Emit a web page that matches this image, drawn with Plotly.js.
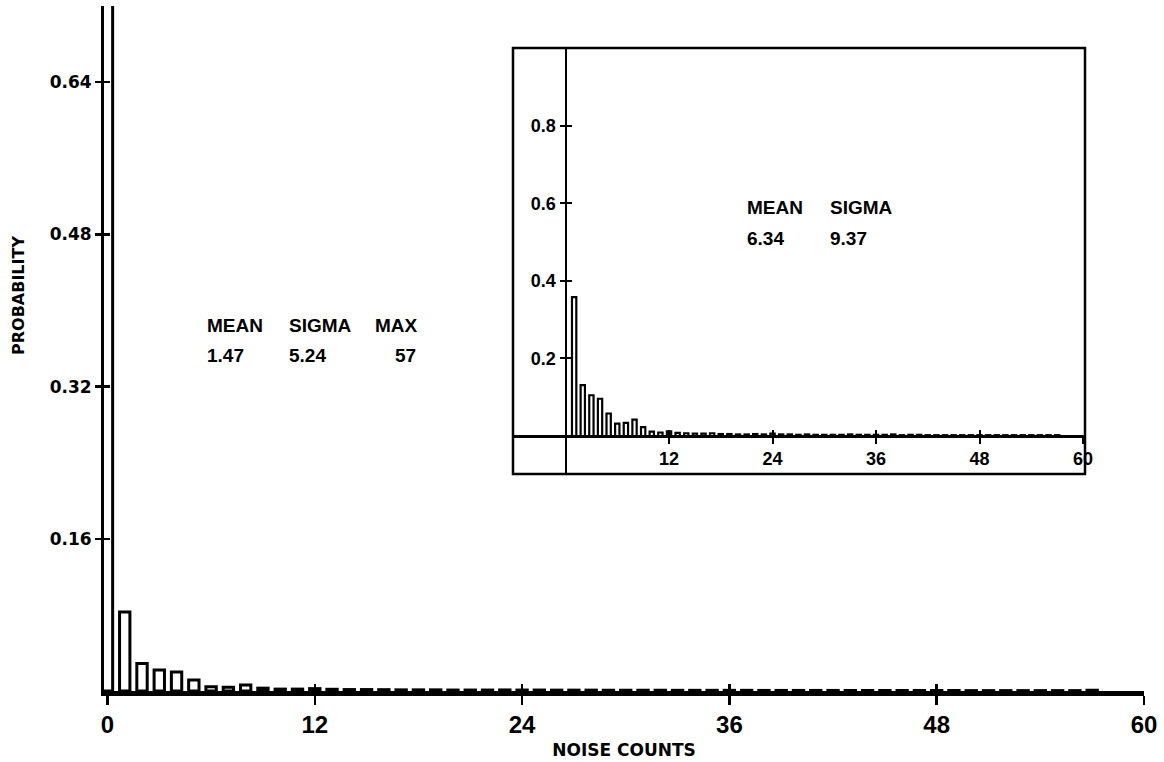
<!DOCTYPE html>
<html>
<head>
<meta charset="utf-8">
<script src="https://cdn.plot.ly/plotly-3.0.1.min.js"></script>
<style>html,body{margin:0;padding:0;background:#fff;}#chart{width:1164px;height:762px;}</style>
</head>
<body>
<div id="chart"></div>
<script>
// Main histogram: noise counts 0..57
const mainCounts = [0,1,2,3,4,5,6,7,8,9,10,11,12,13,14,15,16,17,18,19,20,21,22,23,24,25,26,27,28,29,30,31,32,33,34,35,36,37,38,39,40,41,42,43,44,45,46,47,48,49,50,51,52,53,54,55,56,57];
const mainProb = [0.768,0.083,0.029,0.022,0.020,0.0116,0.0045,0.004,0.0063,0.003,0.002,0.002,0.0025,0.0018,0.0015,0.0015,0.0014,0.0012,0.0012,0.0012,0.001,0.001,0.001,0.0011,0.001,0.001,0.0009,0.0009,0.0009,0.0008,0.0008,0.0008,0.0008,0.0007,0.0007,0.0007,0.0007,0.0007,0.0006,0.0006,0.0006,0.0006,0.0006,0.0005,0.0005,0.0005,0.0005,0.0005,0.0005,0.0005,0.0004,0.0004,0.0004,0.0004,0.0004,0.0004,0.0004,0.0008];

// Inset histogram: non-zero counts 1..57
const insetCounts = [1,2,3,4,5,6,7,8,9,10,11,12,13,14,15,16,17,18,19,20,21,22,23,24,25,26,27,28,29,30,31,32,33,34,35,36,37,38,39,40,41,42,43,44,45,46,47,48,49,50,51,52,53,54,55,56,57];
const insetProb = [0.358,0.131,0.105,0.096,0.058,0.032,0.034,0.042,0.023,0.011,0.009,0.012,0.008,0.007,0.006,0.006,0.007,0.005,0.005,0.004,0.004,0.005,0.004,0.006,0.004,0.004,0.003,0.004,0.003,0.003,0.003,0.003,0.004,0.003,0.003,0.003,0.003,0.004,0.002,0.003,0.003,0.002,0.002,0.002,0.002,0.002,0.002,0.002,0.002,0.002,0.002,0.002,0.002,0.002,0.002,0.002,0.002];

const mainXTicks = [0,12,24,36,48,60];
const mainYTicks = [0.16,0.32,0.48,0.64];
const insetXTicks = [12,24,36,48,60];
const insetYTicks = [0.2,0.4,0.6,0.8];

const mainStats = {labels:['MEAN','SIGMA','MAX'], values:['1.47','5.24','57']};
const insetStats = {labels:['MEAN','SIGMA'], values:['6.34','9.37']};

const F_TICK = {family:'DejaVu Sans', size:17, color:'#000', weight:'bold'};
const F_XT = {family:'Liberation Sans', size:24, color:'#000', weight:'bold'};
const F_IN = {family:'Liberation Sans', size:18, color:'#000', weight:'bold'};
const F_TXT = {family:'Liberation Sans', size:19, color:'#000', weight:'bold'};

const traces = [
  {type:'bar', x:mainCounts, y:mainProb, width:0.6, xaxis:'x', yaxis:'y',
   marker:{color:'#fff', line:{color:'#000', width:3}}, hoverinfo:'skip'},
  {type:'bar', x:insetCounts, y:insetProb, width:0.5, xaxis:'x2', yaxis:'y2',
   marker:{color:'#fff', line:{color:'#000', width:2.2}}, hoverinfo:'skip'}
];

const axBase = {showgrid:false, zeroline:false, color:'#000', linecolor:'#000', tickcolor:'#000', fixedrange:true};

// paper helpers (plot area l=104, width=1040; t=6, height=685)
const px = X => (X - 104) / 1040;
const py = Y => (691 - Y) / 685;

const annotations = [];
const mainLabelX = [205, 287, 373];
mainStats.labels.forEach((t,i)=>annotations.push({xref:'paper', yref:'paper', x:px(mainLabelX[i]), y:py(325), xanchor:'left', yanchor:'middle', text:t, showarrow:false, font:F_TXT}));
annotations.push({xref:'paper', yref:'paper', x:px(205), y:py(355), xanchor:'left', yanchor:'middle', text:mainStats.values[0], showarrow:false, font:F_TXT});
annotations.push({xref:'paper', yref:'paper', x:px(287), y:py(355), xanchor:'left', yanchor:'middle', text:mainStats.values[1], showarrow:false, font:F_TXT});
annotations.push({xref:'paper', yref:'paper', x:px(418), y:py(355), xanchor:'right', yanchor:'middle', text:mainStats.values[2], showarrow:false, font:F_TXT});
const insetLabelX = [745, 828];
insetStats.labels.forEach((t,i)=>annotations.push({xref:'paper', yref:'paper', x:px(insetLabelX[i]), y:py(208), xanchor:'left', yanchor:'middle', text:t, showarrow:false, font:F_TXT}));
insetStats.values.forEach((t,i)=>annotations.push({xref:'paper', yref:'paper', x:px(insetLabelX[i]), y:py(238), xanchor:'left', yanchor:'middle', text:t, showarrow:false, font:F_TXT}));
annotations.push({xref:'paper', yref:'paper', x:px(18), y:py(296), xanchor:'center', yanchor:'middle', textangle:-90, text:'PROBABILITY', showarrow:false, font:{family:'DejaVu Sans', size:16, color:'#000', weight:'bold'}});

const insetDomX = [px(513), px(1085)];
const insetDomY = [py(474), py(48)];
const insetYPos = px(565.5);
const insetXPos = py(435.7);

const layout = {
  width:1164, height:762,
  margin:{l:104, r:20, t:6, b:71},
  paper_bgcolor:'#fff', plot_bgcolor:'rgba(0,0,0,0)',
  showlegend:false, barmode:'overlay',
  font:{family:'DejaVu Sans', color:'#000'},
  xaxis:Object.assign({}, axBase, {range:[-0.2,60], tickvals:mainXTicks, ticktext:mainXTicks.map(String),
    ticks:'outside', ticklen:9, tickwidth:2.5, showline:true, linewidth:4.5, tickfont:F_XT,
    anchor:'y', domain:[0,1],
    title:{text:'NOISE COUNTS', font:{family:'DejaVu Sans', size:17, color:'#000', weight:'bold'}, standoff:8}}),
  yaxis:Object.assign({}, axBase, {range:[0,0.72], tickvals:mainYTicks, ticktext:mainYTicks.map(v=>v.toFixed(2)),
    ticks:'outside', ticklen:6, tickwidth:2.5, showline:true, linewidth:3, tickfont:F_TICK,
    anchor:'x', domain:[0,1]}),
  xaxis3:Object.assign({}, axBase, {range:[-0.2,60], tickvals:mainXTicks.slice(1), ticks:'inside', ticklen:7, tickwidth:2.5,
    showticklabels:false, showline:false, overlaying:'x', anchor:'y'}),
  yaxis3:Object.assign({}, axBase, {range:[0,0.72], tickvals:mainYTicks, ticks:'inside', ticklen:6, tickwidth:2.5,
    showticklabels:false, showline:false, overlaying:'y', anchor:'x'}),
  xaxis2:Object.assign({}, axBase, {range:[-6.09,60.23], domain:insetDomX, anchor:'free', position:insetXPos,
    tickvals:insetXTicks, ticktext:insetXTicks.map(String), ticks:'outside', ticklen:6, tickwidth:2,
    showline:true, linewidth:3, tickfont:F_IN}),
  yaxis2:Object.assign({}, axBase, {range:[-0.098,1.0], domain:insetDomY, anchor:'free', position:insetYPos,
    tickvals:insetYTicks, ticktext:insetYTicks.map(String), ticks:'outside', ticklen:5, tickwidth:2,
    showline:true, linewidth:2.5, tickfont:F_IN}),
  xaxis4:Object.assign({}, axBase, {range:[-6.09,60.23], domain:insetDomX, anchor:'free', position:insetXPos,
    tickvals:insetXTicks.slice(0,4), ticks:'inside', ticklen:6, tickwidth:2, showticklabels:false, showline:false, overlaying:'x2'}),
  yaxis4:Object.assign({}, axBase, {range:[-0.098,1.0], domain:insetDomY, anchor:'free', position:insetYPos,
    tickvals:insetYTicks, ticks:'inside', ticklen:5, tickwidth:2, showticklabels:false, showline:false, overlaying:'y2'}),
  shapes:[
    {type:'rect', xref:'x2 domain', yref:'y2 domain', x0:0, x1:1, y0:0, y1:1, line:{color:'#000', width:2.5}, fillcolor:'rgba(0,0,0,0)'}
  ],
  annotations: annotations
};

traces.push({type:'scatter', x:[], y:[], xaxis:'x3', yaxis:'y3', hoverinfo:'skip'});
traces.push({type:'scatter', x:[], y:[], xaxis:'x4', yaxis:'y4', hoverinfo:'skip'});

Plotly.newPlot('chart', traces, layout, {staticPlot:true, displayModeBar:false});
</script>
</body>
</html>
